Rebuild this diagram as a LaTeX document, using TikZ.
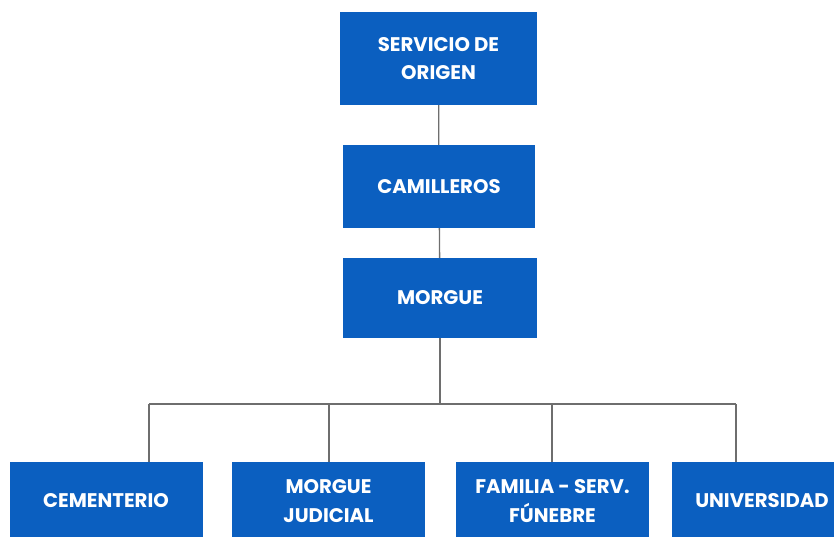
\documentclass[tikz,border=0pt]{standalone}
\usepackage{fontspec}
\setmainfont{Poppins}
\definecolor{boxblue}{HTML}{0B5FC0}
\definecolor{linegray}{HTML}{6E6E6E}
\tikzset{
    box/.style={fill=boxblue, text=white, font=\bfseries\fontsize{19.7}{28.5}\selectfont,
        align=center, inner sep=0pt, minimum width=193pt},
    link/.style={draw=linegray, line width=1.3pt}
}
\begin{document}
\begin{tikzpicture}[x=1pt, y=-1pt]
    \useasboundingbox (0,0) rectangle (834,537);
    \node [box, minimum width=197pt, minimum height=93pt] (orig) at (438.5,58.5) {SERVICIO DE\\ORIGEN};
    \node [box, minimum width=192pt, minimum height=83pt] (cam) at (439,186.5) {CAMILLEROS};
    \node [box, minimum width=194pt, minimum height=80pt] (morgue) at (440,298) {MORGUE};
    \node [box, minimum height=78pt] (cem) at (106,501) {CEMENTERIO};
    \node [box, minimum height=78pt] (jud) at (328.5,501) {MORGUE\\JUDICIAL};
    \node [box, minimum height=78pt] (fam) at (552.5,501) {FAMILIA - SERV.\\FÚNEBRE};
    \node [box, minimum width=180pt, minimum height=78pt] (uni) at (762,501) {UNIVERSIDAD};
    \coordinate (hub) at (440,404);
    \coordinate (b1) at (149,404);
    \coordinate (b2) at (329,404);
    \coordinate (b3) at (552,404);
    \coordinate (b4) at (736,404);
    \draw [link] (orig) -- (cam);
    \draw [link] (cam) -- (morgue);
    \draw [link] (morgue) -- (hub);
    \draw [link] (b1) -- (b4);
    \draw [link] (b1) -- (b1 |- cem.north);
    \draw [link] (b2) -- (b2 |- jud.north);
    \draw [link] (b3) -- (b3 |- fam.north);
    \draw [link] (b4) -- (b4 |- uni.north);
\end{tikzpicture}
\end{document}
